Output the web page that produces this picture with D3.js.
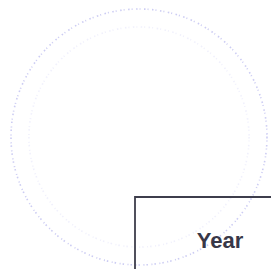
<!DOCTYPE html>
<html>
<head>
<meta charset="utf-8">
<script src="https://cdn.jsdelivr.net/npm/d3@7"></script>
<style>
  body { margin: 0; background: #fff; }
  svg { display: block; }
</style>
</head>
<body>
<div id="chart"></div>
<script>
// table header cells visible in the scan
const columns = ['Year'];
// stamp rings (relative radius, opacity)
const rings = [1.0, 0.86];
const ringAlpha = [0.5, 0.15];

const width = 271;
const height = 269;

const svg = d3.select('#chart')
    .append('svg')
    .attr('width', width)
    .attr('height', height);

// faint stamp behind the table
const rScale = d3.scaleLinear().domain([0, 1]).range([0, 128]);
svg.append('g')
    .attr('transform', 'translate(139,137)')
    .selectAll('circle')
    .data(rings)
    .enter()
    .append('circle')
    .attr('r', d => rScale(d))
    .attr('fill', 'none')
    .attr('stroke', '#9a9ae8')
    .attr('stroke-width', 1.6)
    .attr('stroke-dasharray', '1.5,2,1,3.5')
    .attr('opacity', (d, i) => ringAlpha[i]);

// table fragment
const xScale = d3.scaleBand()
    .domain(columns)
    .range([135, 305]);

const table = svg.append('g');

table.append('path')
    .attr('d', `M${xScale.range()[0]},${height} V197 H${width}`)
    .attr('fill', 'none')
    .attr('stroke', '#3e3e4c')
    .attr('stroke-width', 1.8);

table.selectAll('.head')
    .data(columns)
    .enter()
    .append('text')
    .classed('head', true)
    .attr('x', d => xScale(d) + 85)
    .attr('y', 248)
    .attr('text-anchor', 'middle')
    .attr('fill', '#383848')
    .style('font-family', 'Liberation Sans, Arial, sans-serif')
    .style('font-weight', 'bold')
    .style('font-size', '22px')
    .text(d => d);
</script>
</body>
</html>
